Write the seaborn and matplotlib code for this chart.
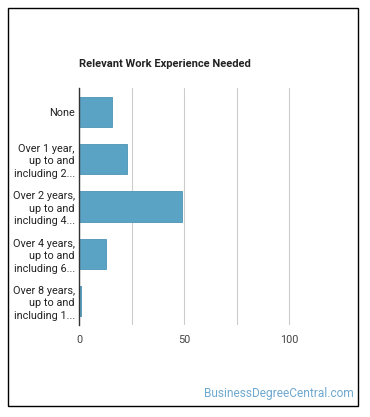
import matplotlib
matplotlib.use('Agg')
import matplotlib.pyplot as plt
import matplotlib.patches as patches
import seaborn as sns
import pandas as pd

categories = ['None',
              'Over 1 year,\nup to and\nincluding 2...',
              'Over 2 years,\nup to and\nincluding 4...',
              'Over 4 years,\nup to and\nincluding 6...',
              'Over 8 years,\nup to and\nincluding 1...']
values = [15.5, 22.7, 48.9, 13.0, 1.1]

sns.set_style('white')
plt.rcParams['font.family'] = ['Roboto', 'DejaVu Sans']

df = pd.DataFrame({'category': categories, 'value': values})

fig = plt.figure(figsize=(3.70, 4.17), dpi=100)
ax = fig.add_axes([79 / 370, 1 - 325 / 417, (340 - 79) / 370, (325 - 88) / 417])

sns.barplot(data=df, x='value', y='category', color='#5ba3c4', width=0.64,
            edgecolor='#4d94b5', linewidth=0.6, saturation=1, ax=ax)

ax.set_xlim(0, 124)
ax.set_xticks([0, 50, 100])
ax.set_xticks([25, 75], minor=True)
ax.grid(axis='x', which='both', color='#cccccc', linewidth=0.8)
ax.set_axisbelow(True)
ax.tick_params(axis='x', which='both', length=4, color='#cccccc', labelsize=7.8,
               labelcolor='#444444', pad=3)
ax.tick_params(axis='y', length=0, labelsize=7.8, labelcolor='#222222', pad=3)
for lab in ax.get_yticklabels():
    lab.set_linespacing(1.3)
ax.set_xlabel('')
ax.set_ylabel('')
for s in ['top', 'right', 'bottom']:
    ax.spines[s].set_visible(False)
ax.spines['left'].set_color('#333333')
ax.spines['left'].set_linewidth(1)

fig.text(79 / 370, 1 - 64 / 417, 'Relevant Work Experience Needed', fontsize=8,
         fontweight='bold', color='#222222', va='center', ha='left')

fig.text(354 / 370, 1 - 394 / 417, 'BusinessDegreeCentral.com', fontsize=8.6,
         color='#6fa8cf', va='center', ha='right')

border = patches.Rectangle((8 / 370, 1 - 406 / 417), (358 - 8) / 370, (406 - 8) / 417,
                           transform=fig.transFigure, fill=False, edgecolor='black',
                           linewidth=1.0)
fig.patches.append(border)

fig.savefig('out.png', dpi=100)
